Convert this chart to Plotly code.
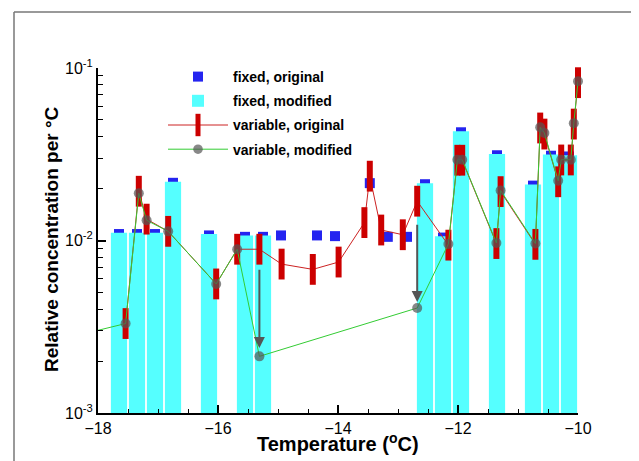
import plotly.graph_objects as go
import math

# ---------------- data ----------------
# fixed bins (cyan bars = fixed, modified)
bin_x = [-17.65, -17.35, -17.05, -16.75, -16.15, -15.55, -15.25,
         -12.55, -12.25, -11.95, -11.35, -10.75, -10.45, -10.15]
fixed_modified = [0.0111, 0.0111, 0.0111, 0.0219, 0.0109, 0.0107, 0.0107,
                  0.0215, 0.0106, 0.0430, 0.0317, 0.0211, 0.0315, 0.0312]

# fixed, original (blue squares)
fixed_orig_x = [-17.65, -17.35, -17.05, -16.75, -16.15, -15.55, -15.25,
                -14.95, -14.35, -14.05, -13.47, -13.17, -12.85,
                -12.55, -12.25, -11.95, -11.35, -10.75, -10.45, -10.15]
fixed_original = [0.0109, 0.0109, 0.0109, 0.0216, 0.0107, 0.0105, 0.0105,
                  0.0107, 0.0107, 0.0106, 0.0215, 0.0105, 0.0105,
                  0.0212, 0.0104, 0.0424, 0.0312, 0.0208, 0.0310, 0.0307]

# variable, original (red bars + red line)
var_orig_x = [-17.54, -17.32, -17.19, -16.83, -16.03, -15.68, -15.31, -14.94,
              -14.42, -13.99, -13.56, -13.47, -13.28, -12.92, -12.68, -12.16,
              -12.01, -11.93, -11.36, -11.29, -10.71, -10.63, -10.56, -10.33,
              -10.28, -10.12, -10.07, -10.00]
var_original = [0.0033, 0.0193, 0.0133, 0.0113, 0.0056, 0.0089, 0.0089, 0.0073,
                0.0068, 0.0075, 0.0127, 0.0236, 0.0115, 0.0108, 0.0169, 0.0094,
                0.0292, 0.0292, 0.0096, 0.0192, 0.0095, 0.0449, 0.0414, 0.0219,
                0.0293, 0.0293, 0.0473, 0.0822]

# variable, modified (gray circles + green line); first point lies left of the axis
var_mod_x = [-18.20, -17.54, -17.32, -17.19, -16.83, -16.03, -15.68, -15.31,
             -12.68, -12.16, -12.01, -11.93, -11.36, -11.29, -10.71, -10.63,
             -10.56, -10.33, -10.28, -10.12, -10.07, -10.00]
var_modified = [0.0029, 0.0033, 0.0188, 0.0131, 0.0113, 0.0056, 0.0089, 0.00213,
                0.00406, 0.00955, 0.0294, 0.0294, 0.00968, 0.0195, 0.0096, 0.0453,
                0.0420, 0.0222, 0.0294, 0.0294, 0.0478, 0.0837]

# arrows (original -> modified)
arrow_x = [-15.31, -12.68]
arrow_tail = [0.0069, 0.0126]
arrow_head = [0.00238, 0.00440]

x_title = "Temperature (<sup>o</sup>C)"
y_title = "Relative concentration per °C"

# ---------------- style ----------------
FONT = "Liberation Sans, Arial, Helvetica, sans-serif"
CYAN = "#55ffff"
BLUE = "#2424f0"
RED = "#cc0000"
RED_LINE = "#cc2222"
GREEN = "#33cc33"
GRAY = "#555555"

W, H = 639, 461
L, R, T, B = 90, 69, 60, 56
pw, ph = W - L - R, H - T - B


def px2paper_x(px):
    return (px - L) / pw


def px2paper_y(py):
    return (H - B - py) / ph


fig = go.Figure()

fig.add_trace(go.Scatter(
    x=fixed_orig_x, y=fixed_original, mode="markers", name="fixed, original",
    marker=dict(symbol="square", size=10, color=BLUE, line=dict(width=0)),
    xaxis="x", yaxis="y", legendgroup="g1"))

fig.add_trace(go.Bar(
    x=bin_x, y=fixed_modified, width=0.27, name="fixed, modified",
    marker=dict(color=CYAN, line=dict(width=0)),
    xaxis="x2", yaxis="y2", legendgroup="g2"))

fig.add_trace(go.Scatter(
    x=var_orig_x, y=var_original, mode="lines+markers", name="variable, original",
    line=dict(color=RED_LINE, width=1),
    marker=dict(symbol="line-ns", size=22, color=RED, line=dict(color=RED, width=6)),
    cliponaxis=False, xaxis="x2", yaxis="y2", legendgroup="g3"))

mod_sizes = [0 if x < -18 else 10 for x in var_mod_x]
fig.add_trace(go.Scatter(
    x=var_mod_x, y=var_modified, mode="lines+markers", name="variable, modified",
    line=dict(color=GREEN, width=1),
    marker=dict(symbol="circle", size=mod_sizes, color=GRAY, line=dict(width=0)),
    cliponaxis=False, xaxis="x2", yaxis="y2", legendgroup="g4"))

annotations = []
for xa, yt, yh in zip(arrow_x, arrow_tail, arrow_head):
    annotations.append(dict(
        x=xa, y=math.log10(yh), ax=xa, ay=math.log10(yt),
        xref="x2", yref="y2", axref="x2", ayref="y2",
        showarrow=True, arrowhead=2, arrowsize=1.1, arrowwidth=2,
        arrowcolor=GRAY, text=""))

# axis titles
annotations.append(dict(
    text=x_title, xref="paper", yref="paper", x=0.5, y=px2paper_y(434),
    xanchor="center", yanchor="middle", showarrow=False,
    font=dict(family=FONT, size=20, weight="bold", color="black")))
annotations.append(dict(
    text=y_title, xref="paper", yref="paper", x=px2paper_x(43), y=px2paper_y(231),
    xanchor="center", yanchor="middle", showarrow=False, textangle=-90,
    font=dict(family=FONT, size=19, weight="bold", color="black")))

shapes = [
    dict(type="line", xref="paper", yref="paper",
         x0=px2paper_x(6), x1=px2paper_x(6), y0=px2paper_y(4), y1=px2paper_y(456.5),
         line=dict(color="#777777", width=1.5)),
    dict(type="line", xref="paper", yref="paper",
         x0=px2paper_x(638), x1=px2paper_x(638), y0=px2paper_y(4), y1=px2paper_y(456.5),
         line=dict(color="#777777", width=1.2)),
    dict(type="line", xref="paper", yref="paper",
         x0=px2paper_x(6), x1=px2paper_x(639), y0=px2paper_y(4), y1=px2paper_y(4),
         line=dict(color="#777777", width=1.5)),
    dict(type="line", xref="paper", yref="paper",
         x0=px2paper_x(6), x1=px2paper_x(639), y0=px2paper_y(456.5), y1=px2paper_y(456.5),
         line=dict(color="#777777", width=1.2)),
    dict(type="rect", xref="paper", yref="paper",
         x0=px2paper_x(0), x1=px2paper_x(639), y0=px2paper_y(461), y1=px2paper_y(458),
         line=dict(width=0), fillcolor="#d43030"),
]

xr = [-18, -10]
yr = [-3, -1]
ytickvals = [0.001, 0.01, 0.1]
yticktext = ["10<sup>-3</sup>", "10<sup>-2</sup>", "10<sup>-1</sup>"]
yminor = [m * 10 ** e for e in (-3, -2) for m in range(2, 10)]

fig.update_layout(
    width=W, height=H,
    margin=dict(l=L, r=R, t=T, b=B, pad=0),
    paper_bgcolor="white", plot_bgcolor="white",
    font=dict(family=FONT, color="black"),
    barmode="overlay",
    showlegend=True,
    legend=dict(x=px2paper_x(155), y=px2paper_y(53), xanchor="left", yanchor="top",
                bgcolor="rgba(0,0,0,0)", borderwidth=0,
                font=dict(family=FONT, size=14, weight="bold", color="black"),
                traceorder="grouped", tracegroupgap=3, itemwidth=60),
    xaxis=dict(range=xr, tick0=-18, dtick=2, ticks="inside", ticklen=8, tickwidth=1.5,
               tickcolor="black", showline=True, linecolor="black", linewidth=2,
               showgrid=False, zeroline=False, automargin=False,
               tickfont=dict(family=FONT, size=16),
               minor=dict(tick0=-18, dtick=0.5, ticks="inside", ticklen=4, tickwidth=1,
                          tickcolor="black", showgrid=False)),
    yaxis=dict(type="log", range=yr, tickmode="array", tickvals=ytickvals, ticktext=yticktext,
               ticks="inside", ticklen=8, tickwidth=1.5, tickcolor="black",
               showline=True, linecolor="black", linewidth=2,
               showgrid=False, zeroline=False, automargin=False,
               tickfont=dict(family=FONT, size=16),
               minor=dict(tickmode="array", tickvals=yminor, ticks="inside", ticklen=5,
                          tickwidth=1, tickcolor="black", showgrid=False)),
    xaxis2=dict(overlaying="x", range=xr, visible=False),
    yaxis2=dict(overlaying="y", type="log", range=yr, visible=False),
    annotations=annotations,
    shapes=shapes,
)

fig.write_html("out.html")
